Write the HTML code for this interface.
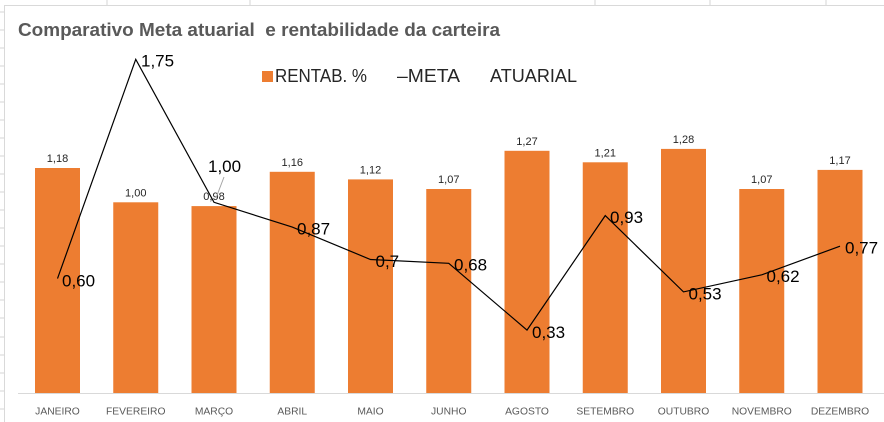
<!DOCTYPE html>
<html>
<head>
<meta charset="utf-8">
<style>
html,body{margin:0;padding:0;background:#fff;}
body{width:884px;height:422px;overflow:hidden;}
svg{display:block;font-family:"Liberation Sans",Arial,sans-serif;}
</style>
</head>
<body>
<svg width="884" height="422" viewBox="0 0 884 422" xmlns="http://www.w3.org/2000/svg">
  <rect x="0" y="0" width="884" height="422" fill="#fff"/>
  <!-- spreadsheet grid outside chart -->
  <g stroke="#d6d6d6" stroke-width="1">
    <line x1="0" y1="12" x2="4" y2="12"/>
    <line x1="0" y1="30" x2="4" y2="30"/>
    <line x1="0" y1="48" x2="4" y2="48"/>
    <line x1="0" y1="66" x2="4" y2="66"/>
    <line x1="0" y1="84" x2="4" y2="84"/>
    <line x1="0" y1="102" x2="4" y2="102"/>
    <line x1="0" y1="120" x2="4" y2="120"/>
    <line x1="0" y1="138" x2="4" y2="138"/>
    <line x1="0" y1="156" x2="4" y2="156"/>
    <line x1="0" y1="174" x2="4" y2="174"/>
    <line x1="0" y1="192" x2="4" y2="192"/>
    <line x1="0" y1="210" x2="4" y2="210"/>
    <line x1="0" y1="228" x2="4" y2="228"/>
    <line x1="0" y1="246" x2="4" y2="246"/>
    <line x1="0" y1="264" x2="4" y2="264"/>
    <line x1="0" y1="282" x2="4" y2="282"/>
    <line x1="0" y1="300" x2="4" y2="300"/>
    <line x1="0" y1="318" x2="4" y2="318"/>
    <line x1="0" y1="337" x2="4" y2="337"/>
    <line x1="0" y1="355" x2="4" y2="355"/>
    <line x1="0" y1="373" x2="4" y2="373"/>
    <line x1="0" y1="391" x2="4" y2="391"/>
    <line x1="0" y1="409" x2="4" y2="409"/>
    <line x1="107" y1="0" x2="107" y2="5"/>
    <line x1="250" y1="0" x2="250" y2="5"/>
    <line x1="595" y1="0" x2="595" y2="5"/>
    <line x1="710" y1="0" x2="710" y2="5"/>
    <line x1="826" y1="0" x2="826" y2="5"/>
  </g>
  <!-- chart border -->
  <line x1="4" y1="5.5" x2="884" y2="5.5" stroke="#d9d9d9" stroke-width="1"/>
  <line x1="4.5" y1="5" x2="4.5" y2="422" stroke="#d9d9d9" stroke-width="1"/>

  <!-- title -->
  <text x="18" y="36" font-size="18" font-weight="bold" fill="#595959" textLength="482" lengthAdjust="spacingAndGlyphs" xml:space="preserve">Comparativo Meta atuarial  e rentabilidade da carteira</text>

  <!-- legend -->
  <rect x="262" y="71" width="11" height="11" fill="#ED7D31"/>
  <text x="275" y="82" font-size="18" fill="#262626" textLength="92" lengthAdjust="spacingAndGlyphs">RENTAB. %</text>
  <text x="397" y="82" font-size="18" fill="#262626" textLength="63" lengthAdjust="spacingAndGlyphs">–META</text>
  <text x="490" y="82" font-size="18" fill="#262626" textLength="87" lengthAdjust="spacingAndGlyphs">ATUARIAL</text>

  <!-- bars -->
  <g fill="#ED7D31">
    <rect x="35" y="168" width="45" height="225"/>
    <rect x="113.25" y="202.3" width="45" height="190.7"/>
    <rect x="191.5" y="206.1" width="45" height="186.9"/>
    <rect x="269.75" y="171.8" width="45" height="221.2"/>
    <rect x="348" y="179.4" width="45" height="213.6"/>
    <rect x="426.25" y="189" width="45" height="204"/>
    <rect x="504.5" y="150.8" width="45" height="242.2"/>
    <rect x="582.75" y="162.3" width="45" height="230.7"/>
    <rect x="661" y="148.9" width="45" height="244.1"/>
    <rect x="739.25" y="189" width="45" height="204"/>
    <rect x="817.5" y="169.9" width="45" height="223.1"/>
  </g>

  <!-- axis -->
  <line x1="18" y1="393.5" x2="884" y2="393.5" stroke="#d9d9d9" stroke-width="1"/>

  <!-- bar labels -->
  <g font-size="11" fill="#262626" text-anchor="middle">
    <text x="57.5" y="162">1,18</text>
    <text x="135.75" y="196.3">1,00</text>
    <text x="214" y="200.1">0,98</text>
    <text x="292.25" y="165.8">1,16</text>
    <text x="370.5" y="173.4">1,12</text>
    <text x="448.75" y="183">1,07</text>
    <text x="527" y="144.8">1,27</text>
    <text x="605.25" y="156.3">1,21</text>
    <text x="683.5" y="142.9">1,28</text>
    <text x="761.75" y="183">1,07</text>
    <text x="840" y="163.9">1,17</text>
  </g>

  <!-- meta line -->
  <polyline fill="none" stroke="#000" stroke-width="1.2" stroke-linejoin="miter"
    points="57.5,278.6 135.75,59.3 214,202.3 292.25,227.1 370.5,259.5 448.75,263.3 527,330.1 605.25,215.6 683.5,291.9 761.75,274.8 840,246.2"/>
  <line x1="224" y1="177" x2="216" y2="198" stroke="#a6a6a6" stroke-width="1"/>

  <!-- meta labels -->
  <g font-size="17" fill="#000">
    <text x="62" y="286.5">0,60</text>
    <text x="141" y="66.5">1,75</text>
    <text x="208" y="172">1,00</text>
    <text x="297" y="234.5">0,87</text>
    <text x="375.5" y="267">0,7</text>
    <text x="454" y="270.5">0,68</text>
    <text x="532" y="338">0,33</text>
    <text x="610" y="223">0,93</text>
    <text x="688.5" y="299.5">0,53</text>
    <text x="766.5" y="282">0,62</text>
    <text x="845" y="253.5">0,77</text>
  </g>

  <!-- category labels -->
  <g font-size="10.3" fill="#595959" text-anchor="middle">
    <text x="57.5" y="414.5">JANEIRO</text>
    <text x="135.75" y="414.5">FEVEREIRO</text>
    <text x="214" y="414.5">MARÇO</text>
    <text x="292.25" y="414.5">ABRIL</text>
    <text x="370.5" y="414.5">MAIO</text>
    <text x="448.75" y="414.5">JUNHO</text>
    <text x="527" y="414.5">AGOSTO</text>
    <text x="605.25" y="414.5">SETEMBRO</text>
    <text x="683.5" y="414.5">OUTUBRO</text>
    <text x="761.75" y="414.5">NOVEMBRO</text>
    <text x="840" y="414.5">DEZEMBRO</text>
  </g>
</svg>
</body>
</html>
